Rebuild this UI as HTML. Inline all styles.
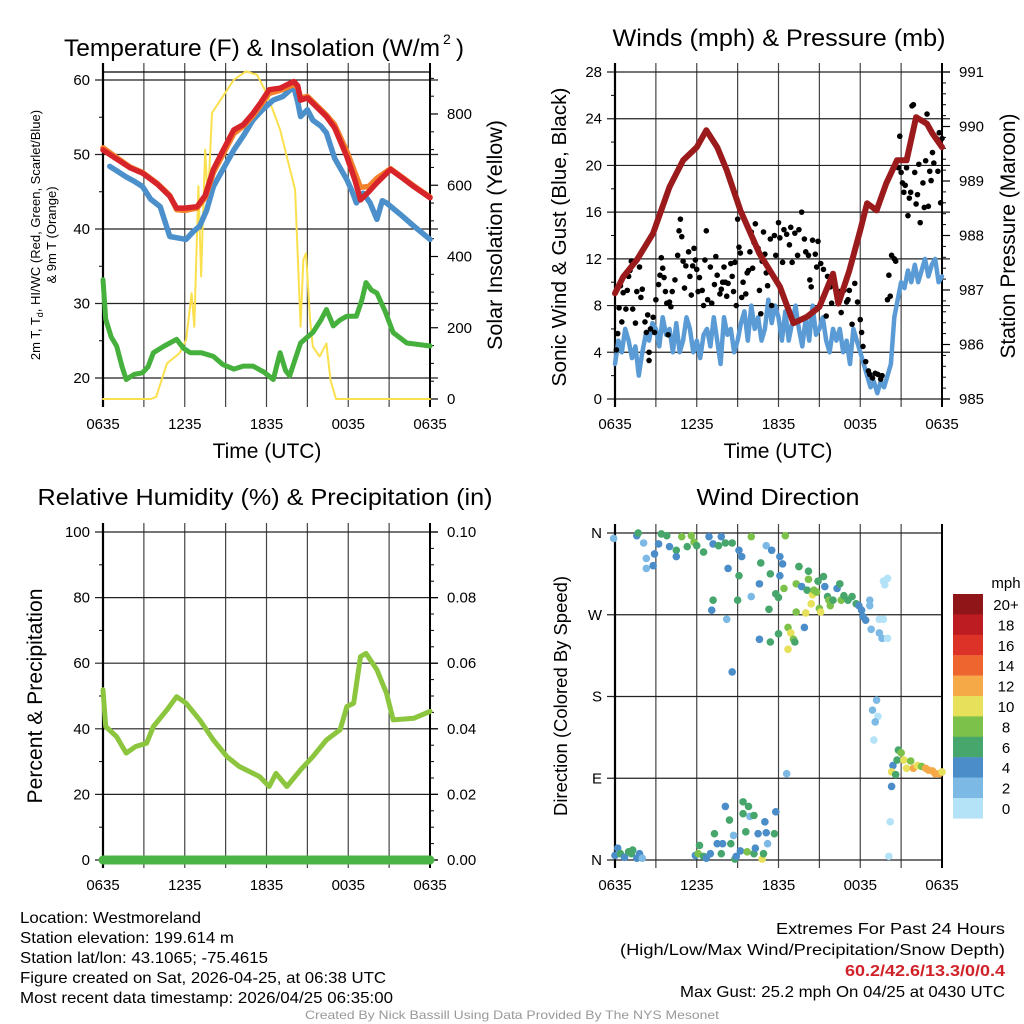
<!DOCTYPE html>
<html><head><meta charset="utf-8"><style>
html,body{margin:0;padding:0;background:#fff}
svg{display:block;font-family:"Liberation Sans",sans-serif}
</style></head><body>
<svg id="c" width="1024" height="1024" viewBox="0 0 1024 1024" xmlns="http://www.w3.org/2000/svg"></svg>
<script>
// ---------- DATA ----------
const tempHours=[0,1,2,2.9,4,4.9,5.4,6,6.9,7.5,8.1,8.8,9.6,10.3,11,11.6,12.2,13,14,14.3,14.5,15,16.4,17,17.9,18.5,18.9,19.5,20.1,21.1,22,22.8,24];
const tempRed=[50.6,49.4,48.2,47.5,46,44.4,42.8,42.8,43,44.5,48,50.5,53.3,54,55.5,57,58.7,58.9,59.8,59.2,57.3,57.6,55.1,53.6,49.7,46.5,43.9,45,46.2,48,46.8,45.7,44.2];
const tempOrange=[50.9,49.6,48.3,47.6,46.1,44.5,42.6,42.5,42.8,44.2,47.6,50,52.8,53.8,55.2,56.7,58.2,58.6,59.4,59,57.6,57.8,55.3,54,50.4,47.5,45.6,45.7,46.8,48.1,46.9,45.8,44.3];
const blueHours=[0.5,1.2,1.7,2.3,2.9,3.5,4.2,4.9,5.5,6.1,6.6,7.1,7.6,8.1,8.8,9.6,10.3,11,11.7,12.5,13.2,14,14.3,14.5,15,15.4,16,16.4,17,17.9,18.3,18.6,19.1,19.6,20.1,20.5,20.8,21.8,22.8,24];
const tempBlue=[48.4,47.6,47,46.4,45.7,44,43,39,38.8,38.6,39.6,40.4,42.5,45.7,48,50.6,52.5,54.6,56,57.3,57.8,59.1,57,55.1,56,54.6,53.8,52.9,49.5,46.6,45,43.5,44.8,43.5,41.3,43.8,43.5,42,40.4,38.6];
const dewHours=[0,0.2,0.6,1,1.4,1.7,2.3,2.9,3.3,3.7,4.5,5.4,5.9,6.4,7.2,8.1,8.8,9.6,10.3,11,11.8,12.5,12.8,13,13.4,13.7,14.1,14.5,15,15.4,16,16.4,16.9,17.4,17.9,18.6,19,19.3,19.7,20.1,20.7,21.3,22.3,24];
const dewGreen=[33.2,27.9,25.5,24.3,21.5,19.8,20.5,20.7,21.5,23.4,24.3,25.2,24,23.4,23.4,22.9,21.8,21.2,21.6,21.6,20.8,19.8,22,23.4,21,20.3,22.5,24.7,25.5,26.1,27.8,29.2,27,27.8,28.3,28.3,30.5,32.8,31.8,31.4,29,26.1,24.7,24.3];
const solarHours=[0,3.5,3.9,4.7,5.6,6.1,6.5,6.7,7,7.2,7.5,7.7,8,9.6,10.5,11.3,12,13,14.1,14.5,14.7,14.9,15.2,15.4,15.9,16.4,16.7,17.1,24];
const solarVals=[0,0,6,100,128,166,297,203,597,344,700,550,803,896,920,910,859,756,587,203,390,409,222,147,119,156,53,0,0];
const presHours=[0,0.6,1.6,2.8,4,5,6,6.7,7.5,8.2,9.2,10.6,12.1,13.1,14.1,15,16,16.4,17.2,18,18.5,19.2,19.9,20.7,21.4,22.1,22.9,23.3,24];
const presVals=[986.94,987.24,987.55,988.04,988.89,989.38,989.62,989.93,989.62,989.2,988.46,987.67,987.06,986.39,986.51,986.69,987.3,986.75,987.36,988.1,988.59,988.46,988.95,989.38,989.38,990.17,990.05,989.87,989.62];
const windSpeed=[3,5,4,6,5,3.5,4.5,2,4,5.5,5,6.5,6,4.5,7,5.5,6,4,6.5,4,5,7,6,4,5,3.5,5.5,6,4.5,7,5,3,7,5.5,6,4,5,6.5,7.5,5,8,6,7,5,6,8.5,6.5,8,7,5,7.5,5,6.5,8,6,4.5,7,5,8,5.5,6,7,5,4,6,5,6,4,5,3,6,5,4,3,2,1,1.5,0.5,1.5,1,2,3,7,8.5,10,9.5,11,10,11.5,10,11,12,10.5,11.5,12,10,10.5];
const gustHours=[0.1,0.2,0.3,0.4,0.5,0.6,0.8,0.9,1,1.1,1.2,1.3,1.5,1.6,1.8,1.9,2,2.2,2.3,2.4,2.5,2.5,2.6,2.8,2.9,3,3.2,3.3,3.4,3.5,3.6,3.7,3.8,3.9,4,4.1,4.2,4.4,4.6,4.7,4.8,4.9,5,5.1,5.2,5.4,5.5,5.6,5.7,5.8,5.9,6,6.1,6.2,6.4,6.5,6.6,6.7,6.8,7,7.1,7.3,7.4,7.5,7.7,7.8,7.9,8,8.1,8.2,8.3,8.5,8.6,8.7,8.8,8.9,9,9.1,9.2,9.3,9.4,9.6,9.7,9.8,9.9,10,10.1,10.2,10.3,10.5,10.6,10.7,10.8,10.9,11,11.1,11.2,11.4,11.5,11.7,11.8,12,12.1,12.3,12.4,12.6,12.8,12.9,13,13.2,13.4,13.5,13.7,13.9,14,14.2,14.3,14.4,14.5,14.7,14.8,14.9,15.1,15.3,15.5,15.6,15.8,15.9,16.1,16.3,16.5,16.6,16.8,17,17.1,17.2,17.4,17.6,17.8,18,18.1,18.2,18.4,18.6,18.7,18.9,19.1,19.3,19.5,19.6,20,20.1,20.2,20.3,20.5,20.6,20.8,20.9,21,21.1,21.2,21.3,21.4,21.5,21.6,21.7,21.8,21.9,22,22.1,22.2,22.3,22.4,22.6,22.7,22.8,22.9,23,23.1,23.2,23.3,23.4,23.6,23.7,23.8,23.9,24];
const gustVals=[4.2,5.6,7.8,9.7,6.6,9.1,7.7,9.3,10.5,11,11.8,7.7,6.5,9.2,11.3,8.7,9.4,6.6,5.7,7.2,4,3.3,6,7,5.7,8.5,9.8,10.6,12.1,11.2,10.4,9.2,8.2,5.5,8.3,7.9,9.2,10.2,12.3,14.4,15.4,13.9,11.8,9.5,11.4,12.6,10.5,8.9,11.4,12.9,11.9,11.1,9.2,10.4,9.3,8,11.9,14.4,8.5,11.3,8.2,9.8,12.2,10.6,9,9.4,10,11.3,10,8.8,9.9,11.6,10.5,9.2,11.7,8,15.4,13,12.5,8.7,10,9,10.8,11,12.6,14.3,11.2,13.4,15,12.9,9.3,7.3,11.8,14.3,12.4,10.8,9.7,13.7,8,14,12.3,15.1,13.8,11.7,14.5,14.1,13.2,14.7,11.7,14.2,12.3,14.5,16,13.7,12.6,12.3,10.2,9.6,13.6,12.4,11.3,13.5,11.6,11.1,7.1,10.5,9.6,8.2,9.8,8.9,9.2,7.4,9.3,8.3,8.5,9.3,6.4,9.9,8.3,6.8,5.7,4.5,3.2,2.4,2.1,1.8,2.2,2.1,1.7,2,8.5,10.6,8.8,12.3,12,11.8,19.8,22.5,19.4,18.5,17.7,18.3,19.8,15.7,17.2,17.7,25.1,25.2,19.4,16.7,17.5,20.1,15.1,18.5,16.4,20.4,24.4,16.5,19.5,18.7,21.1,20.2,22.3,19.5,22.8,16.8,22.3];
const rhHours=[0,0.2,1,1.7,2.4,3.2,3.7,4.7,5.4,6.1,7.1,8.1,9.1,10,11.5,12.2,12.7,13.5,14.5,15.4,16.4,17.4,17.9,18.4,18.9,19.3,20.1,20.8,21.3,22.8,24];
const rhVals=[51.9,40.7,37.6,32.6,34.6,35.6,40.7,45.8,49.8,47.8,42.7,36.6,31.5,28.5,25.4,22.4,26.4,22.4,27.5,31.5,36.6,39.7,46.8,47.8,62,63,58,50.9,42.7,43.2,45.3];
const precipVals=[0,0];
const dirHours=[-0.1,1.6,1.7,2.1,2.3,2.3,2.8,2.9,3.2,3.4,3.8,4,4.5,4.5,4.9,5.3,5.6,5.8,6,6.5,6.9,7.2,7.6,7.8,8.1,8.6,8.3,9.1,9.3,9.1,10,7.2,7.1,8.2,9,10,10.6,10.7,11.1,11.5,11.4,10.6,11.3,11.4,11.8,12,12,12.1,12.3,12.1,12.4,12.5,8.6,12.7,12.9,13.1,13.2,12.7,13.3,13.3,13.5,13.5,13.7,13.9,14,14.1,14.2,14.2,14.4,14.5,14.6,14.8,15,14.9,15.1,15.3,15.4,15.6,15.7,15.8,16,16.3,16.5,16.6,16.8,17.1,17.4,17.7,17.9,18.1,18.4,18.2,18.7,18.7,18.8,19.4,19.7,19.4,19.6,20,19.7,20,19.8,19.2,18.9,19.3,19.1,19,12.6,20.4,20.7,20.8,21,21.2,21.4,21.7,21.9,22.2,22.5,22.8,23,23.3,23.5,23.8,24,20.3,20.6,20.3,20.2,20.1,0,0.2,0.4,0.7,1,1.2,1.3,1.6,1.8,2,5.9,6.1,6.2,6.5,6.7,7,7.3,7.5,7.8,7.9,8.1,8.4,8.5,8.7,8.8,8.9,9.2,9.4,9.6,9.7,9.8,9.9,9.4,10.2,10.2,10.3,10.5,10.8,10.9,11,11.1,11.2,11.7,11.8];
const dirDeg=[354,357,360,349,332,321,324,337,348,359,357,345,341,334,356,345,357,350,346,339,356,348,346,356,349,349,321,341,334,313,356,286,275,265,286,290,304,327,346,341,315,243,276,240,293,289,249,334,326,313,299,357,207,256,250,243,240,232,304,273,323,323,301,256,272,297,318,309,282,292,297,295,277,307,273,312,301,290,286,280,286,299,304,286,291,286,290,282,280,275,264,268,286,280,254,265,265,250,244,244,307,310,303,176,165,158,152,132,95,104,110,121,118,110,101,109,101,104,103,101,99,98,95,95,97,97,94,81,42,4,5,13,7,3,9,7,11,2,7,2,5,7,16,4,2,7,29,18,7,18,59,44,18,27,1,4,10,64,31,9,59,48,51,49,7,13,29,1,7,42,30,18,29,53];
const dirSpeed=[2,4,6,2,2,2,4,4,4,6,6,4,6,4,8,6,8,8,6,6,4,4,6,4,6,6,4,4,4,6,8,6,4,2,6,2,4,6,2,4,6,4,6,6,6,6,6,4,4,4,8,8,4,8,10,8,6,10,8,8,8,6,4,4,10,6,6,8,10,10,8,8,8,6,10,6,4,6,8,8,6,4,6,8,6,6,6,6,4,4,4,4,2,2,2,0,0,2,2,0,0,0,0,2,2,0,2,0,2,4,6,6,8,10,10,8,12,10,8,12,12,12,12,12,10,10,6,4,0,0,4,4,6,4,6,6,6,4,4,2,4,8,6,6,4,4,6,4,6,4,4,6,6,2,6,4,4,6,6,8,6,2,6,6,6,4,4,10,6,4,4,2,6,4];
const legendLabels=["20+","18","16","14","12","10","8","6","4","2","0"];
const legendColors=["#8f1518","#bd1c23","#dc3228","#ee6530","#f5a947","#e6e05a","#7cc24a","#46a66c","#4a8dc8","#7cb9e4","#b4e2f7"];
const xTickLabels=["0635","1235","1835","0035","0635"];

// ---------- HELPERS ----------
const NS="http://www.w3.org/2000/svg";
const svg=document.getElementById("c");
function mk(tag,attrs,parent){const e=document.createElementNS(NS,tag);for(const k in attrs)e.setAttribute(k,attrs[k]);(parent||svg).appendChild(e);return e;}
function txt(s,x,y,size,anchor,extra){const e=mk("text",Object.assign({x:x,y:y,"font-size":size,"text-anchor":anchor||"start",fill:"#000"},extra||{}));e.textContent=s;return e;}
function poly(xs,ys,fx,fy,color,w,name,g){const pts=xs.map((h,i)=>fx(h).toFixed(1)+","+fy(ys[i]).toFixed(1)).join(" ");const e=mk("polyline",{points:pts,fill:"none",stroke:color,"stroke-width":w,"stroke-linejoin":"round","stroke-linecap":"round"},g);

return e;}

function frame(P,prefix){
  const g=mk("g",{});
  
  
  for(let h=0;h<=24;h+=3){const x=P.x0+h*(P.x1-P.x0)/24;
    const l=mk("line",{x1:x,x2:x,y1:P.top-9,y2:P.bot+8,stroke:"#444","stroke-width":1.2},g);
    
    }
  P.lt.forEach(v=>{const y=P.ly(v);const l=mk("line",{x1:P.x0-8,x2:P.x1+(P.rt?8:0),y1:y,y2:y,stroke:"#222","stroke-width":1.2},g);
    
    
    const t=txt(P.lfmt(v),P.x0-13,y+5,15,"end");
    
    });
  (P.lm||[]).forEach(v=>{const y=P.ly(v);mk("line",{x1:P.x0-4,x2:P.x0,y1:y,y2:y,stroke:"#000","stroke-width":1},g);});
  if(P.rt){P.rt.forEach(v=>{const y=P.ry(v);mk("line",{x1:P.x1,x2:P.x1+8,y1:y,y2:y,stroke:"#000","stroke-width":1.2},g);
    const t=txt(P.rfmt(v),P.x1+17,y+5,15,"start");
    
    });
   (P.rm||[]).forEach(v=>{const y=P.ry(v);mk("line",{x1:P.x1,x2:P.x1+4,y1:y,y2:y,stroke:"#000","stroke-width":1},g);});}
  const la=mk("line",{x1:P.x0,x2:P.x0,y1:P.top-9,y2:P.bot+8,stroke:"#000","stroke-width":2.2},g);
  
  
  const ra=mk("line",{x1:P.x1,x2:P.x1,y1:P.top-9,y2:P.bot+8,stroke:"#000","stroke-width":2},g);
  
  
  xTickLabels.forEach((s,i)=>{const t=txt(s,P.x0+i*(P.x1-P.x0)/4,P.bot+30,15,"middle");
    
    });
  return g;
}
function range(a,b,s){const r=[];for(let v=a;v<=b+1e-9;v+=s)r.push(+v.toFixed(4));return r;}

// ---------- PANEL 1 ----------
const P1={x0:103,x1:430,top:72,bot:399};
P1.x=h=>P1.x0+h*(P1.x1-P1.x0)/24;
P1.ly=v=>80+(60-v)*7.45; P1.ry=w=>399-w*(285/800);
P1.lt=[20,30,40,50,60]; P1.lm=[25,35,45,55]; P1.lfmt=v=>String(v);
P1.rt=[0,200,400,600,800]; P1.rm=range(50,900,50).filter(v=>v%200); P1.rfmt=v=>String(v);
frame(P1,"temp");
let tl=mk("line",{x1:103,x2:430,y1:72,y2:72,stroke:"#000","stroke-width":1.2});


const g1=mk("g",{});


poly(solarHours,solarVals,P1.x,P1.ry,"#fbe04e",2,"solar-line",g1);
poly(dewHours,dewGreen,P1.x,P1.ly,"#46b03d",5,"dewpoint-line",g1);
poly(blueHours,tempBlue,P1.x,P1.ly,"#4b8fcb",5.5,"windchill-line",g1);
poly(tempHours,tempOrange,P1.x,P1.ly,"#f4812c",5.5,"temp-9m-line",g1);
poly(tempHours,tempRed,P1.x,P1.ly,"#d7242a",5.5,"temp-2m-line",g1);
let t;
t=txt("Temperature (F) & Insolation (W/m",64,56,24,"start",{textLength:376,lengthAdjust:"spacingAndGlyphs"});


const t2=txt("2",443,44,14,"start");


const t3=txt(")",456,56,24,"start");


t=txt("Time (UTC)",267,458,21,"middle");


t=txt("",40,235,13,"middle",{transform:"rotate(-90 40 235)"});


t.innerHTML='2m T, T<tspan font-size="9" dy="3">d</tspan><tspan dy="-3">, HI/WC (Red, Green, Scarlet/Blue)</tspan>';
t=txt("& 9m T (Orange)",56,235,13,"middle",{transform:"rotate(-90 56 235)"});


t=txt("Solar Insolation (Yellow)",502,235,21.5,"middle",{transform:"rotate(-90 502 235)"});



// ---------- PANEL 2 ----------
const P2={x0:615,x1:942,top:72,bot:399};
P2.x=h=>P2.x0+h*(P2.x1-P2.x0)/24;
P2.ly=m=>399-m*(327/28); P2.ry=p=>399-(p-985)*(327/6);
P2.lt=range(0,28,4); P2.lm=range(2,26,4); P2.lfmt=v=>String(v);
P2.rt=range(985,991,1); P2.rm=range(985.2,990.8,0.2).filter(v=>Math.abs(v-Math.round(v))>0.01); P2.rfmt=v=>String(v);
frame(P2,"winds");
const g2=mk("g",{});


const windHours=windSpeed.map((v,i)=>i*24/(windSpeed.length-1));
poly(windHours,windSpeed,P2.x,P2.ly,"#5a9bd5",4.5,"sonic-wind-line",g2);
gustHours.forEach((h,i)=>{const c=mk("circle",{cx:P2.x(h),cy:P2.ly(gustVals[i]),r:2.8,fill:"#000"},g2);
  
  });
poly(presHours,presVals,P2.x,P2.ry,"#9b1b1d",6,"pressure-line",g2);
t=txt("Winds (mph) & Pressure (mb)",779,46,24,"middle",{textLength:333,lengthAdjust:"spacingAndGlyphs"});


t=txt("Time (UTC)",778,458,21,"middle");


t=txt("Sonic Wind & Gust (Blue, Black)",566,237,20,"middle",{transform:"rotate(-90 566 237)",textLength:299,lengthAdjust:"spacingAndGlyphs"});


t=txt("Station Pressure (Maroon)",1015,236,21,"middle",{transform:"rotate(-90 1015 236)",textLength:245,lengthAdjust:"spacingAndGlyphs"});



// ---------- PANEL 3 ----------
const P3={x0:103,x1:430,top:532,bot:860};
P3.x=h=>P3.x0+h*(P3.x1-P3.x0)/24;
P3.ly=v=>860-v*3.28; P3.ry=p=>860-p*3280;
P3.lt=range(0,100,20); P3.lm=range(10,90,20); P3.lfmt=v=>String(v);
P3.rt=range(0,0.1,0.02); P3.rm=range(0.005,0.095,0.005).filter(v=>Math.abs(v/0.02-Math.round(v/0.02))>0.01); P3.rfmt=v=>v.toFixed(2);
frame(P3,"rh");
const g3=mk("g",{});


poly(rhHours,rhVals,P3.x,P3.ly,"#8cc63f",5,"rh-line",g3);
poly([0,24],precipVals,P3.x,P3.ry,"#4bb447",9,"precip-line",g3);
t=txt("Relative Humidity (%) & Precipitation (in)",265,505,23,"middle",{textLength:455,lengthAdjust:"spacingAndGlyphs"});


t=txt("Percent & Precipitation",42,696,21.5,"middle",{transform:"rotate(-90 42 696)",textLength:215,lengthAdjust:"spacingAndGlyphs"});



// ---------- PANEL 4 ----------
const P4={x0:615,x1:942,top:533,bot:860};
P4.x=h=>P4.x0+h*(P4.x1-P4.x0)/24;
P4.ly=d=>860-d*327/360;
P4.lt=[0,90,180,270,360]; P4.lm=[]; P4.lfmt=v=>({0:"N",90:"E",180:"S",270:"W",360:"N"})[v];
frame(P4,"direction");
const g4=mk("g",{});


dirHours.forEach((h,i)=>{const idx=Math.min(10,Math.floor(dirSpeed[i]/2));
  const c=mk("circle",{cx:P4.x(h),cy:P4.ly(dirDeg[i]),r:3.8,fill:legendColors[10-idx]},g4);
  
  });
t=txt("Wind Direction",778,505,23,"middle",{textLength:163,lengthAdjust:"spacingAndGlyphs"});


t=txt("Direction (Colored By Speed)",567,696,18.5,"middle",{transform:"rotate(-90 567 696)",textLength:240,lengthAdjust:"spacingAndGlyphs"});


const lg=mk("g",{});


t=txt("mph",1006,588,15,"middle");


legendLabels.forEach((s,i)=>{const y=594+i*20.4;
  const r=mk("rect",{x:953,y:y,width:30,height:20.6,fill:legendColors[i]},lg);
  
  
  const tt=txt(s,1006,y+16,15,"middle");
  
  });

// ---------- FOOTER ----------
const left=["Location: Westmoreland","Station elevation: 199.614 m","Station lat/lon: 43.1065; -75.4615","Figure created on Sat, 2026-04-25, at 06:38 UTC","Most recent data timestamp: 2026/04/25 06:35:00"];
const leftW=[181,214,248,366,373];
left.forEach((s,i)=>{const e=txt(s,20,923+i*20,16,"start",{textLength:leftW[i],lengthAdjust:"spacingAndGlyphs"});
  
  });
const right=[["Extremes For Past 24 Hours",229,"#000","normal",934],["(High/Low/Max Wind/Precipitation/Snow Depth)",385,"#000","normal",955],["60.2/42.6/13.3/0/0.4",160,"#d1222a","bold",976],["Max Gust: 25.2 mph On 04/25 at 0430 UTC",325,"#000","normal",997]];
right.forEach(r=>{const e=txt(r[0],1005,r[4],16,"end",{textLength:r[1],lengthAdjust:"spacingAndGlyphs",fill:r[2],"font-weight":r[3]});
  
  });
t=txt("Created By Nick Bassill Using Data Provided By The NYS Mesonet",512,1019,12,"middle",{fill:"#999",textLength:414,lengthAdjust:"spacingAndGlyphs"});


</script>
</body></html>
